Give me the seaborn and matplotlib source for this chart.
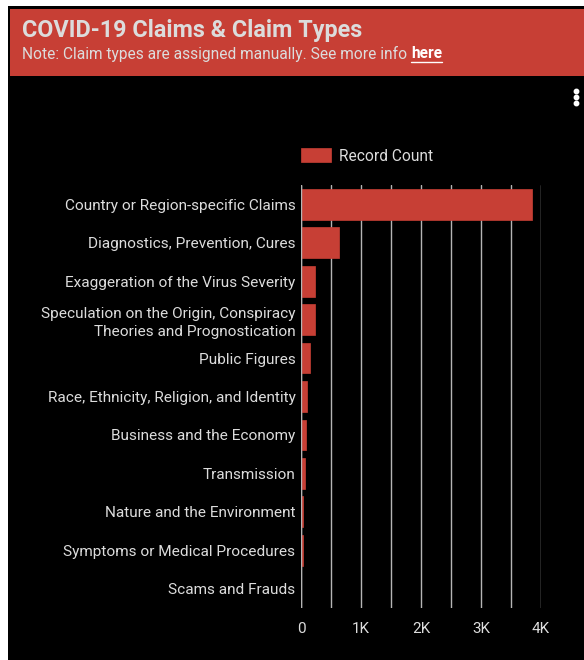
import matplotlib
matplotlib.use("Agg")
import matplotlib.pyplot as plt
import seaborn as sns
import pandas as pd
from matplotlib.patches import Rectangle
from matplotlib.lines import Line2D

categories = [
    "Country or Region-specific Claims",
    "Diagnostics, Prevention, Cures",
    "Exaggeration of the Virus Severity",
    "Speculation on the Origin, Conspiracy\nTheories and Prognostication",
    "Public Figures",
    "Race, Ethnicity, Religion, and Identity",
    "Business and the Economy",
    "Transmission",
    "Nature and the Environment",
    "Symptoms or Medical Procedures",
    "Scams and Frauds",
]
record_count = [3845, 635, 240, 238, 155, 105, 83, 67, 28, 25, 3]
tick_values = [0, 1000, 2000, 3000, 4000]
tick_labels = ["0", "1K", "2K", "3K", "4K"]

df = pd.DataFrame({"Category": categories, "Record Count": record_count})

sns.set_theme(style="dark")
plt.rcParams['font.family'] = ['Roboto', 'DejaVu Sans']

W, H = 584, 660
fig = plt.figure(figsize=(W / 100, H / 100), dpi=100, facecolor="white")

def fx(px):
    return px / W

def fy(py):
    return 1 - py / H

RED = "#c73f35"
TXT = "#dcdcdc"

# black panel
fig.patches.append(Rectangle((fx(8), 0), 1 - fx(8), fy(6), transform=fig.transFigure,
                             facecolor="black", edgecolor="none", zorder=-2))
# red header
fig.patches.append(Rectangle((fx(10), fy(76)), 1 - fx(10), fy(9) - fy(76), transform=fig.transFigure,
                             facecolor=RED, edgecolor="none", zorder=-1))

fig.text(fx(22), fy(30), "COVID-19 Claims & Claim Types", color=TXT, fontsize=16.8,
         fontweight="bold", va="center", ha="left")
note = fig.text(fx(22), fy(54), "Note: Claim types are assigned manually. See more info ",
                color=TXT, fontsize=11.2, va="center", ha="left")
fig.canvas.draw()
r = fig.canvas.get_renderer()
bb = note.get_window_extent(r)
here = fig.text(bb.x1 / W, fy(54), "here", color="white", fontsize=11.2,
                fontweight="bold", va="center", ha="left")
hb = here.get_window_extent(r)
fig.add_artist(Line2D([hb.x0 / W, hb.x1 / W], [fy(62), fy(62)], color="white",
                      lw=1.0, transform=fig.transFigure))

# three dots menu
for yy in (91, 97, 103):
    fig.add_artist(Line2D([fx(576)], [fy(yy)], marker="o", markersize=3.2, color="white",
                          transform=fig.transFigure, linestyle="none"))

ax_left, ax_right = 301, 541
ax_top, ax_bottom = 185, 608
ax = fig.add_axes([fx(ax_left), fy(ax_bottom), fx(ax_right) - fx(ax_left), fy(ax_top) - fy(ax_bottom)])
ax.set_facecolor("black")
ax.set_zorder(2)

sns.barplot(data=df, x="Record Count", y="Category", orient="h", color=RED,
            saturation=1, width=0.8, ax=ax, label="Record Count", zorder=3,
            edgecolor=RED, linewidth=0.5)

ax.set_xlim(0, 4000)
ax.set_xticks(tick_values)
ax.set_xticklabels(tick_labels)
ax.set_xticks(range(500, 4001, 1000), minor=True)
ax.grid(True, axis="x", which="both", color="#b5b5b5", linewidth=1.0, zorder=0)
ax.grid(False, axis="y")
ax.set_axisbelow(True)
ax.axvline(0, color="#b5b5b5", lw=1.0, zorder=4)
for s in ax.spines.values():
    s.set_visible(False)
ax.tick_params(axis="x", which="both", colors=TXT, labelsize=11, length=0, pad=10)
ax.tick_params(axis="y", colors=TXT, labelsize=11.1, length=0, pad=4)
for t in ax.get_yticklabels():
    t.set_multialignment("right")
    t.set_linespacing(1.35)
ax.set_xlabel("")
ax.set_ylabel("")

leg = ax.legend(loc="center left", bbox_to_anchor=(fx(287), fy(156)), bbox_transform=fig.transFigure,
                frameon=False, fontsize=11.2, handlelength=1.95, handleheight=0.95, handletextpad=0.5)
for t in leg.get_texts():
    t.set_color(TXT)

fig.savefig("out.png", dpi=100, facecolor="white")
